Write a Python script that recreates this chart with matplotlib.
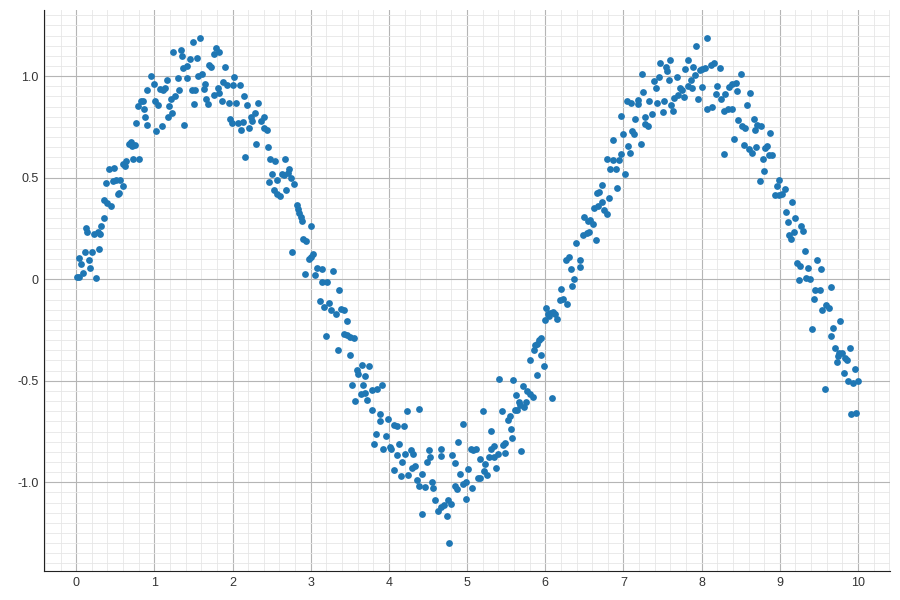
import matplotlib
matplotlib.use("Agg")
import matplotlib.pyplot as plt
from matplotlib.ticker import MultipleLocator

plt.rcParams['font.family'] = ['Liberation Sans', 'DejaVu Sans']

# values, left to right
x_vals = [
    0.01, 0.03, 0.09, 0.06, 0.04, 0.11, 0.17, 0.18, 0.25, 0.20, 0.29, 0.13, 0.14, 0.23, 0.28, 0.31,
    0.32, 0.35, 0.36, 0.40, 0.45, 0.53, 0.55, 0.38, 0.47, 0.51, 0.56, 0.60, 0.42, 0.49, 0.60, 0.63,
    0.64, 0.73, 0.80, 0.67, 0.70, 0.72, 0.75, 0.77, 0.79, 0.83, 0.86, 0.87, 0.88, 0.90, 0.90,
    0.955, 0.99, 1.01, 1.05, 1.02, 1.10, 1.07, 1.11, 1.13, 1.16, 1.17, 1.19, 1.21, 1.23, 1.27, 1.31,
    1.30, 1.24, 1.34, 1.35, 1.37, 1.42, 1.42, 1.45, 1.38, 1.48, 1.52, 1.51, 1.49, 1.59, 1.55, 1.56,
    1.61, 1.63, 1.65, 1.66, 1.69, 1.70, 1.73, 1.76, 1.79, 1.76, 1.81, 1.83,
    1.83, 1.91, 1.88, 1.93, 1.87, 1.95, 2.02, 2.01, 2.09, 2.05, 2.15, 2.19, 2.33, 2.29, 1.97, 1.99,
    2.07, 2.13, 2.11, 2.21, 2.23, 2.25, 2.36, 2.40, 2.40, 2.44, 2.30, 2.16, 2.45, 2.48, 2.54, 2.67,
    2.72, 2.47, 2.51, 2.57, 2.63, 2.66, 2.71, 2.75, 2.53, 2.57, 2.61, 2.69, 2.76,
    2.79, 2.82, 2.84, 2.85, 2.87, 2.89, 3.00, 2.90, 2.94, 2.98, 3.00, 3.03, 3.08, 3.14, 3.05, 2.93,
    3.15, 3.21, 3.29, 3.36, 3.12, 3.17, 3.23, 3.26, 3.32, 3.39, 3.43, 3.46, 3.19, 3.43, 3.47, 3.50,
    3.55, 3.35, 3.50, 3.65, 3.59, 3.61, 3.70, 3.53, 3.67, 3.64, 3.69, 3.57, 3.72,
    3.75, 3.78, 3.85, 3.91, 3.79, 3.88, 3.89, 3.99, 4.06, 4.10, 4.19, 4.23, 4.39, 3.83, 3.96, 3.81,
    3.93, 4.01, 4.03, 4.13, 4.10, 4.20, 4.28, 4.31, 4.17, 4.06, 4.15, 4.25, 4.29, 4.34, 4.36, 4.42,
    4.38, 4.46, 4.51, 4.53, 4.49, 4.66, 4.66, 4.55, 4.57, 4.59, 4.63, 4.42, 4.67,
    5.41, 5.59, 5.62, 5.20, 5.44, 5.61, 5.52, 4.95, 5.31, 5.56, 5.58, 4.89, 4.81, 4.85, 5.05, 5.08,
    5.11, 5.16, 5.30, 5.35, 5.28, 5.34, 5.40, 5.46, 5.49, 5.48, 5.23, 5.21, 5.37, 5.01, 4.91, 4.98,
    4.95, 5.14, 5.17, 5.26, 5.06, 4.84, 4.87, 4.99, 4.75, 4.80, 4.71, 4.74, 4.77,
    6.50, 6.54, 6.48, 6.53, 6.39, 6.27, 6.30, 6.44, 6.45, 6.33, 6.37, 6.34, 6.20, 6.19, 6.23, 6.28,
    6.01, 6.03, 6.06, 6.10, 6.12, 6.05, 6.15, 6.00, 5.95, 5.92, 5.89, 5.87, 5.86, 5.94, 5.80, 5.98,
    5.90, 5.72, 5.77, 5.81, 5.84, 6.08, 5.66, 5.75, 5.68, 5.73, 5.64, 5.55, 5.69,
    7.47, 7.24, 7.39, 7.46, 7.42, 7.25, 7.04, 7.10, 7.18, 7.19, 7.33, 7.43, 7.50, 6.97, 7.15, 7.27,
    7.36, 7.28, 7.31, 7.11, 7.14, 7.00, 6.86, 7.06, 7.08, 7.22, 6.97, 6.79, 6.87, 6.94, 6.83, 6.90,
    7.02, 6.92, 6.73, 6.66, 6.69, 6.82, 6.72, 6.68, 6.62, 6.75, 6.79, 6.57, 6.61, 6.56, 6.65,
    8.07, 7.93, 7.60, 7.82, 7.54, 7.56, 7.79, 7.89, 7.58, 7.68, 7.86, 7.92, 7.98, 8.00, 8.04, 8.12,
    8.16, 8.23, 7.83, 7.87, 7.72, 7.75, 8.01, 8.20, 8.35, 8.39, 8.44, 7.65, 7.70, 7.77, 7.95, 8.18,
    8.30, 8.45, 8.25, 7.52, 7.61, 8.07, 8.13, 8.29, 8.34, 8.39, 7.63, 8.46, 8.41, 8.28,
    8.50, 8.62, 8.58, 8.52, 8.56, 8.67, 8.71, 8.76, 8.68, 8.88, 8.54, 8.60, 8.64, 8.70, 8.81, 8.84,
    8.86, 8.90, 8.78, 8.80, 8.74, 8.99, 8.96, 9.06, 8.94, 8.99, 9.03, 9.16, 9.08, 9.20, 9.10, 9.27,
    9.30, 9.18, 9.12, 9.14, 9.32, 9.22, 9.26, 9.36, 9.33, 9.39, 9.24,
    9.48, 9.52, 9.45, 9.51, 9.65, 9.44, 9.59, 9.63, 9.54, 9.41, 9.68, 9.77, 9.65, 9.70, 9.90, 9.76,
    9.80, 9.74, 9.83, 9.86, 9.73, 9.82, 9.96, 9.87, 9.94, 10.00, 9.58, 9.91, 9.98,
]
y_vals = [
    0.01, 0.01, 0.03, 0.074, 0.107, 0.136, 0.094, 0.053, 0.008, 0.136, 0.151, 0.25, 0.233, 0.225, 0.233, 0.225,
    0.26, 0.30, 0.39, 0.376, 0.36, 0.42, 0.425, 0.476, 0.484, 0.49, 0.49, 0.46, 0.545, 0.55, 0.567, 0.56,
    0.58, 0.594, 0.59, 0.668, 0.676, 0.655, 0.66, 0.767, 0.852, 0.88, 0.88, 0.836, 0.80, 0.76, 0.934,
    1.00, 0.96, 0.877, 0.86, 0.73, 0.755, 0.936, 0.93, 0.94, 0.98, 0.80, 0.855, 0.887, 0.82, 0.90, 0.934,
    0.99, 1.117, 1.127, 1.10, 1.04, 1.05, 0.99, 1.087, 0.76, 0.93, 0.93, 0.865, 1.17, 1.19, 1.09, 1.00,
    1.013, 0.936, 0.96, 0.887, 0.865, 1.054, 1.045, 1.11, 1.14, 0.906, 0.94, 0.915,
    1.12, 1.043, 0.972, 0.956, 0.88, 0.87, 0.994, 0.956, 0.956, 0.87, 0.90, 0.857, 0.87, 0.82, 0.787, 0.77,
    0.77, 0.775, 0.734, 0.747, 0.80, 0.78, 0.78, 0.80, 0.747, 0.734, 0.664, 0.604, 0.649, 0.594, 0.583, 0.59,
    0.545, 0.48, 0.516, 0.488, 0.52, 0.512, 0.524, 0.50, 0.438, 0.42, 0.41, 0.438, 0.135,
    0.47, 0.364, 0.348, 0.327, 0.307, 0.286, 0.264, 0.197, 0.187, 0.098, 0.11, 0.126, 0.056, 0.049, 0.02, 0.025,
    -0.016, -0.013, 0.039, -0.054, -0.108, -0.136, -0.115, -0.153, -0.172, -0.149, -0.153, -0.207, -0.281, -0.271, -0.276, -0.284,
    -0.287, -0.35, -0.371, -0.42, -0.448, -0.465, -0.478, -0.519, -0.519, -0.567, -0.56, -0.60, -0.596,
    -0.429, -0.547, -0.539, -0.522, -0.645, -0.665, -0.70, -0.686, -0.719, -0.724, -0.724, -0.65, -0.637, -0.76, -0.773, -0.81,
    -0.834, -0.826, -0.834, -0.813, -0.867, -0.859, -0.839, -0.859, -0.90, -0.941, -0.97, -0.966, -0.928, -0.921, -0.987, -0.957,
    -1.02, -1.023, -0.839, -0.878, -0.90, -0.834, -0.872, -0.998, -1.03, -1.085, -1.14, -1.155, -1.12,
    -0.49, -0.494, -0.57, -0.65, -0.649, -0.642, -0.695, -0.711, -0.747, -0.74, -0.78, -0.803, -0.864, -0.903, -0.834, -0.839,
    -0.834, -0.883, -0.834, -0.823, -0.878, -0.875, -0.859, -0.816, -0.806, -0.856, -0.908, -0.944, -0.928, -0.933, -0.957, -0.998,
    -1.01, -0.977, -0.977, -0.962, -1.026, -1.02, -1.031, -1.08, -1.089, -1.105, -1.113, -1.167, -1.30,
    0.307, 0.287, 0.22, 0.228, 0.176, 0.094, 0.11, 0.094, 0.058, 0.048, -0.001, -0.031, -0.046, -0.10, -0.095, -0.12,
    -0.144, -0.169, -0.164, -0.161, -0.169, -0.182, -0.194, -0.202, -0.287, -0.30, -0.317, -0.325, -0.35, -0.371, -0.396, -0.429,
    -0.473, -0.527, -0.55, -0.567, -0.58, -0.583, -0.604, -0.604, -0.62, -0.629, -0.642, -0.675, -0.847,
    1.063, 1.013, 0.975, 0.997, 0.94, 0.92, 0.878, 0.869, 0.862, 0.885, 0.878, 0.869, 0.824, 0.806, 0.787, 0.797,
    0.813, 0.764, 0.755, 0.73, 0.714, 0.713, 0.685, 0.655, 0.624, 0.664, 0.619, 0.59, 0.586, 0.586, 0.545, 0.545,
    0.516, 0.447, 0.466, 0.425, 0.43, 0.402, 0.38, 0.36, 0.351, 0.343, 0.319, 0.294, 0.274, 0.233, 0.192,
    1.186, 1.15, 1.079, 1.079, 1.046, 1.026, 1.033, 1.046, 0.98, 0.994, 0.98, 1.005, 1.03, 1.034, 1.038, 1.054,
    1.067, 1.038, 0.952, 0.94, 0.94, 0.93, 0.947, 0.952, 0.947, 0.963, 0.968, 0.893, 0.906, 0.898, 0.887, 0.911,
    0.91, 0.926, 0.887, 0.878, 0.86, 0.837, 0.847, 0.828, 0.84, 0.84, 0.828, 0.783, 0.693, 0.616,
    1.01, 0.915, 0.857, 0.754, 0.747, 0.787, 0.759, 0.754, 0.734, 0.721, 0.66, 0.639, 0.622, 0.649, 0.644, 0.657,
    0.614, 0.611, 0.594, 0.532, 0.483, 0.488, 0.46, 0.443, 0.414, 0.414, 0.419, 0.378, 0.329, 0.304, 0.284, 0.261,
    0.236, 0.233, 0.22, 0.196, 0.14, 0.08, 0.064, 0.053, 0.008, -0.001, -0.005,
    0.097, 0.048, -0.051, -0.054, -0.038, -0.099, -0.125, -0.14, -0.153, -0.243, -0.24, -0.207, -0.279, -0.341, -0.341, -0.361,
    -0.361, -0.379, -0.386, -0.399, -0.407, -0.46, -0.44, -0.502, -0.509, -0.502, -0.539, -0.662, -0.657,
]

x_ticks = [0, 1, 2, 3, 4, 5, 6, 7, 8, 9, 10]
y_ticks = [-1.0, -0.5, 0, 0.5, 1.0]
y_tick_labels = ["-1.0", "-0.5", "0", "0.5", "1.0"]

fig = plt.figure(figsize=(9, 6), dpi=100)
ax = fig.add_axes([0.049, 0.048, 0.940, 0.935])

ax.scatter(x_vals, y_vals, s=24, color="#1f77b4", linewidths=0, zorder=3)

ax.set_xlim(-0.41, 10.41)
ax.set_ylim(-1.438, 1.325)
ax.set_xticks(x_ticks)
ax.set_yticks(y_ticks)
ax.set_yticklabels(y_tick_labels)
ax.xaxis.set_minor_locator(MultipleLocator(0.2))
ax.yaxis.set_minor_locator(MultipleLocator(0.05))

ax.grid(which="major", color="#b5b5b5", linewidth=0.8, zorder=0)
ax.grid(which="minor", color="#e6e6e6", linewidth=0.6, zorder=0)
ax.set_axisbelow(True)

ax.spines["top"].set_visible(False)
ax.spines["right"].set_visible(False)
for side in ("left", "bottom"):
    ax.spines[side].set_color("#222222")
ax.tick_params(which="major", labelsize=9, length=0, labelcolor="#333333")
ax.tick_params(which="minor", length=0)
ax.tick_params(axis="x", pad=4)
ax.tick_params(axis="y", pad=4)

fig.savefig("out.png", dpi=100)
